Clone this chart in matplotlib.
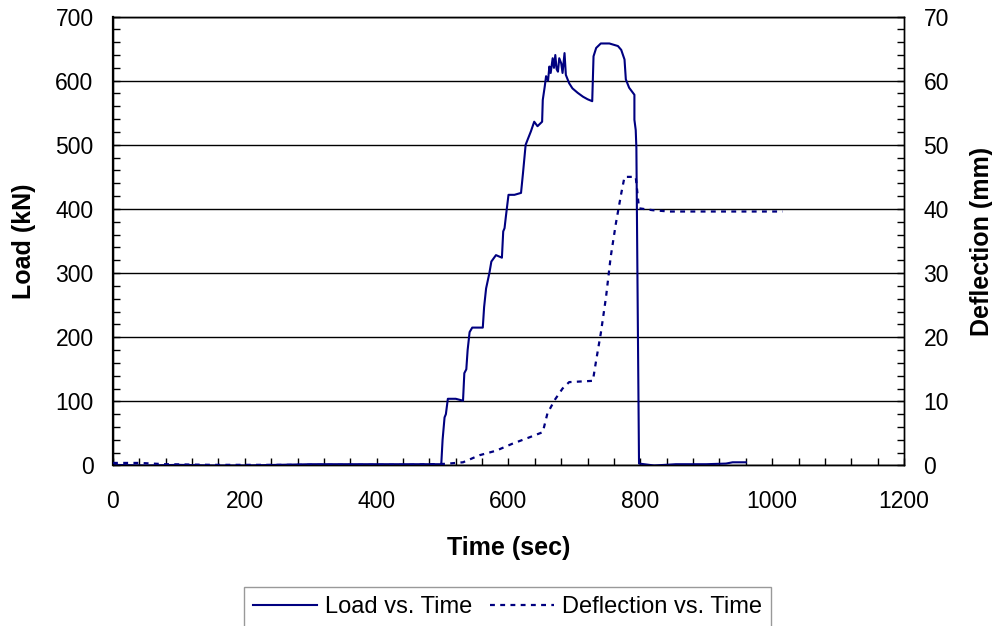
import numpy as np
import matplotlib.pyplot as plt
from matplotlib.ticker import MultipleLocator

plt.rcParams['font.family'] = ['Liberation Sans', 'DejaVu Sans']

# load cell record (sec, kN)
load_t = [0, 50, 100, 150, 200, 250, 300, 350, 400, 450, 498, 500, 503, 505, 508, 520, 531,
          533, 536, 538, 541, 545, 561, 563, 566, 571, 574, 581, 590, 592, 594, 596, 600, 609,
          619, 622, 626, 629, 634, 639, 644, 651, 652, 655, 657, 660, 662, 664, 667,
          669, 671, 673, 675, 677, 680, 682, 685, 687, 692, 697, 705, 713, 720, 727,
          729, 733, 740, 753, 766, 771, 776, 778, 783, 791, 791, 793, 794, 796, 798,
          821, 854, 900, 930, 940, 960]
load_v = [1, 0, 1, 0, 0, 1, 2, 2, 2, 2, 2, 40, 75, 80, 104, 104, 101,
          144, 150, 180, 208, 215, 215, 247, 276, 300, 318, 328, 324, 365, 370, 388, 422, 422,
          425, 456, 500, 508, 521, 536, 529, 536, 570, 591, 607, 600, 622, 612, 635,
          620, 640, 618, 614, 635, 627, 612, 643, 609, 596, 588, 581, 575, 571, 568,
          638, 651, 658, 658, 654, 648, 633, 602, 589, 578, 539, 523, 495, 247, 3,
          0, 2, 2, 3, 5, 5]

# LVDT record (sec, mm)
defl_t = [0, 40, 80, 150, 250, 350, 450, 505, 531, 556, 581, 606, 632, 652, 659,
          670, 682, 692, 710, 728, 733, 740, 748, 755, 763, 771, 776, 793, 798, 819,
          844, 900, 1016]
defl_v = [0.4, 0.4, 0.2, 0.1, 0.1, 0.1, 0.1, 0.26, 0.5, 1.6, 2.3, 3.4, 4.4, 5.2, 8.1,
          10.2, 12.0, 13.0, 13.1, 13.2, 16.4, 20.6, 26.3, 32.5, 37.8, 42.4, 45.0, 45.0,
          40.1, 39.8, 39.6, 39.6, 39.6]

navy = '#000080'

fig = plt.figure(figsize=(9.92, 6.26), dpi=100)
ax = fig.add_axes([0.1139, 0.2564, 0.7974, 0.7172])
ax2 = ax.twinx()

l1, = ax.plot(load_t, load_v, color=navy, lw=1.5, label='Load vs. Time', zorder=3)
l2, = ax2.plot(defl_t, defl_v, color=navy, lw=1.6, ls=(0, (2.2, 2.4)),
               label='Deflection vs. Time', zorder=3)

ax.set_xlim(0, 1200)
ax.set_ylim(0, 700)
ax2.set_ylim(0, 70)

ax.xaxis.set_major_locator(MultipleLocator(200))
ax.xaxis.set_minor_locator(MultipleLocator(40))
ax.yaxis.set_major_locator(MultipleLocator(100))
ax.yaxis.set_minor_locator(MultipleLocator(20))
ax2.yaxis.set_major_locator(MultipleLocator(10))
ax2.yaxis.set_minor_locator(MultipleLocator(2))

ax.grid(axis='y', color='black', lw=1.0)
ax.set_axisbelow(True)

for a in (ax, ax2):
    a.tick_params(which='both', direction='in', length=5, width=1, labelsize=16.5)
    for s in a.spines.values():
        s.set_linewidth(1.0)
ax.spines['left'].set_linewidth(1.6)
ax.tick_params(axis='x', pad=18)
ax.tick_params(axis='y', pad=14)
ax2.tick_params(axis='y', pad=14)

ax.set_xlabel('Time (sec)', fontsize=18, fontweight='bold', labelpad=16)
ax.set_ylabel('Load (kN)', fontsize=18, fontweight='bold', labelpad=14)
ax2.set_ylabel('Deflection (mm)', fontsize=18, fontweight='bold', labelpad=15)

leg = fig.legend(handles=[l1, l2], loc='upper center', bbox_to_anchor=(0.5116, 0.0623),
                 ncol=2, fontsize=17, frameon=True, fancybox=False, edgecolor='#808080',
                 handlelength=2.7, handletextpad=0.34, columnspacing=0.76,
                 borderpad=0.4, borderaxespad=0)
leg.get_frame().set_linewidth(1.0)

fig.savefig('out.png', dpi=100)
